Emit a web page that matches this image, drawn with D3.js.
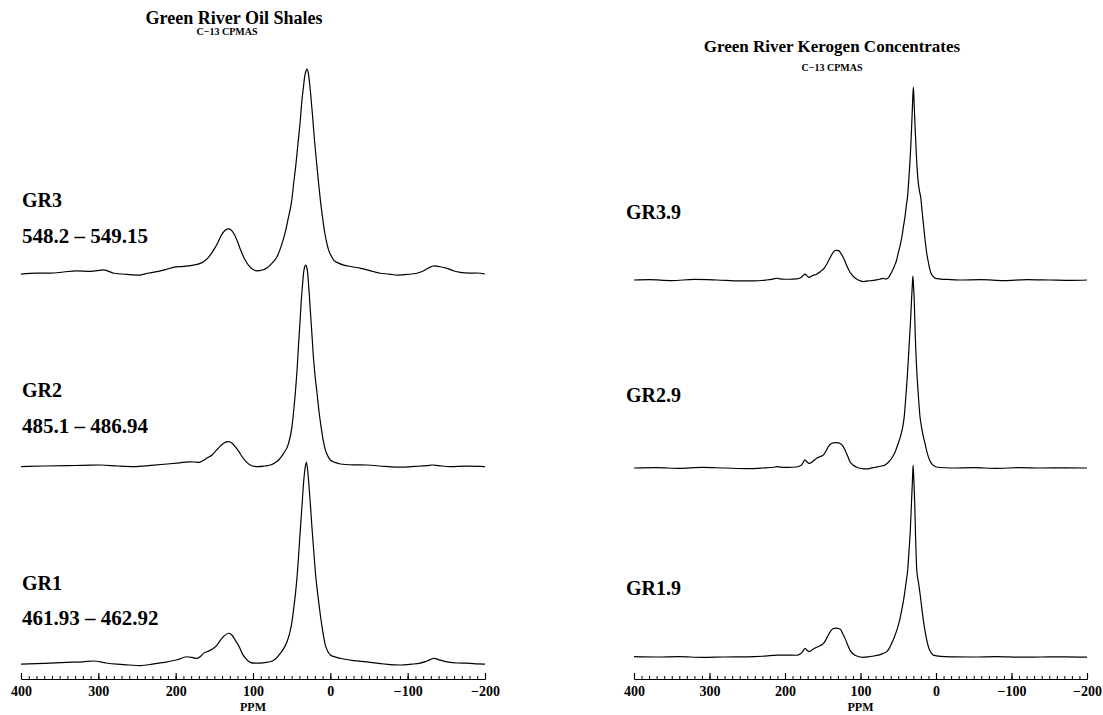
<!DOCTYPE html>
<html><head><meta charset="utf-8">
<script src="https://cdn.jsdelivr.net/npm/d3@7"></script>
<style>
body{margin:0;background:#fff}
text{font-family:"Liberation Serif","Times New Roman",serif;font-weight:bold;fill:#000}
</style>
</head><body>
<svg id="c" width="1103" height="715"></svg>
<script>
// ---------- data ----------
const majorTicks = [400, 300, 200, 100, 0, -100, -200];
const leftTitle = "Green River Oil Shales";
const rightTitle = "Green River Kerogen Concentrates";
const subTitle = "C\u221213 CPMAS";
const axisLabel = "PPM";
const leftNames = ["GR3", "GR2", "GR1"];
const leftRanges = ["548.2 \u2013 549.15", "485.1 \u2013 486.94", "461.93 \u2013 462.92"];
const rightNames = ["GR3.9", "GR2.9", "GR1.9"];

// [ppm, relative intensity] (main peak = 100)
const gr3 = [[400,-1],[380,-0.6],[362,-0.6],[345,0],[328,0.6],[310,0.3],[293,1],[280,-0.6],[262,-1.2],[246,-1.5],[235,-0.5],[224,0.2],[212,1.3],[203,2.3],[190,2.8],[177,3.4],[170,4],[164,5.1],[157,7.5],[151,10.8],[146,14],[142,17.4],[137,20.2],[132,21.2],[128,20.6],[125,19.1],[120,15],[116,10.8],[111,6.5],[106,3.4],[100,1.2],[95,0.6],[88,1],[82,2],[75,4.5],[69,7.5],[62.5,14],[58,20],[54,27.2],[50,35],[47.4,43.7],[44.5,53],[41.8,63.4],[39,74],[36.7,84.7],[34.8,91],[33.2,96.2],[31.5,99],[30.2,100],[28.5,98],[26.8,93],[24.8,85],[22.9,76.5],[20.5,65],[18.1,55.2],[15.5,45],[12.9,35.5],[10.3,27.5],[7.8,20.7],[5,15],[2.2,10.8],[-1,8],[-4.3,5.9],[-10,4.5],[-17.2,3.4],[-28,2.6],[-39,1.8],[-50,0.8],[-64.7,-0.6],[-76,-1],[-86,-1.5],[-100,-1.2],[-112,-0.6],[-120,0.5],[-127,2],[-134,3],[-142,2.6],[-151,1.8],[-160,0.5],[-168,-0.2],[-180,-0.6],[-190,-0.5],[-200,-1]];
const gr2 = [[400,-0.3],[370,0],[340,0.2],[320,0.3],[297,0.5],[275,0],[254,-0.3],[232,0.3],[211,1],[195,1.6],[183,2.1],[176,2],[170,1.8],[165,2.6],[160,3.8],[153,5.5],[147,8],[142,10],[138,11.3],[134,12],[131.5,12.1],[127,11.3],[123,9.6],[118,7],[114,4.6],[109,2.2],[103.5,0.5],[98,-0.2],[92.8,-0.3],[85,0],[77.6,0.5],[72,1.5],[66.9,3],[60.4,6.3],[54,11.3],[49.6,19.6],[47.5,27],[45.3,36.2],[43,48],[41,61],[39,73],[37.5,82.6],[36,90],[34.5,96.4],[33.2,99],[31.9,100],[30.6,99],[29.4,96.4],[27.7,88],[25.9,77.6],[23.7,65],[21.6,52.7],[19.5,44],[17.2,36.2],[14.6,27],[12,19.6],[9.3,13],[6.5,8],[3,4.8],[0,3],[-6,1.8],[-13,1],[-30,0.6],[-47,0.5],[-70,-0.2],[-90.5,-0.6],[-110,-0.2],[-125,0.2],[-132,0.5],[-140,0.2],[-155,-0.3],[-175,-0.1],[-200,-0.3]];
const gr1 = [[400,-0.6],[370,-0.2],[341,0.3],[320,0.6],[306,1],[290,0],[276,-0.6],[260,-1],[246,-1.3],[228,-0.4],[211,0.6],[198,1.6],[186,3.1],[179,2.8],[172.5,2.3],[168,3.2],[164,4.8],[157,6],[151,7.3],[146,9.2],[142,11.4],[137,13.6],[131.5,14.8],[127,13.8],[123,11.4],[118,8.2],[114,4.8],[109,2],[103.5,0.3],[98,-0.1],[92.8,-0.1],[85,0.2],[77.6,0.6],[71,2],[64.7,4.8],[60,7.4],[56,10.6],[52.5,15],[49.6,20.5],[47.4,27],[45.3,33.8],[43,43],[41,53.7],[39.2,64],[37.5,73.6],[36,82],[34.5,90.2],[32.8,96.5],[31,100],[29.5,96.5],[28,90.2],[25.8,79],[23.7,67],[21.5,56],[19.4,45.4],[16.2,34],[12.9,23.9],[9.7,15.5],[6.5,9],[3,5.6],[0,4],[-8,2.8],[-17,2],[-30,1.2],[-47,0.6],[-70,-0.5],[-90.5,-1],[-105,-0.6],[-116,-0.1],[-125,1],[-134,2.3],[-142,1.4],[-151,0.6],[-165,0],[-177,-0.1],[-190,-0.4],[-200,-0.6]];
const gr39 = [[400,0],[380,0.2],[350,-0.3],[320,0.3],[290,0],[260,-0.5],[240,-0.5],[225,0],[215,0.6],[211,0.9],[205,0.5],[195,0.4],[185,0.6],[179,1.2],[176,2.3],[173.5,3],[170,1.8],[168,1.4],[164,2.2],[158,3],[153,4.4],[148,6.2],[145,8],[142,10.2],[139,12.5],[136,14.5],[133,15.3],[129,15.2],[126,13.8],[122,11],[118,7.3],[115,4.8],[112,3],[108,1.3],[103,0],[96,-0.8],[90,-0.5],[83,-0.2],[75,0.4],[70,0.8],[66,0.5],[62,1.8],[58.6,4.2],[55,7.3],[52,10.5],[50,14],[47.5,18],[45,22.8],[43,28],[41,33],[39.5,38],[37.5,44],[36,52],[34.4,62],[33.2,71],[32.2,80],[31,92],[30,100],[29,92],[27.8,80],[26.5,69],[25.5,61],[24.5,55],[23.4,50.3],[21.9,46],[20.3,43],[18.5,36],[16.8,29.5],[14.5,21],[12.3,14],[10,9],[8,5.2],[5.7,2.7],[4,2],[1.3,1],[-6,0.5],[-15,0.3],[-30,0],[-60,0.2],[-90,-0.3],[-120,0.2],[-150,0],[-180,-0.2],[-200,0]];
const gr29 = [[400,0],[370,0.2],[340,-0.2],[310,0.3],[280,0],[250,-0.3],[230,0],[215,0.4],[211,0.7],[200,0.3],[190,0.4],[182,0.8],[178,1.6],[175,3.6],[173.5,4.2],[170.5,3],[168,2.4],[163,3.5],[158,5.1],[153,6],[149,6.8],[145.5,9],[142.6,11.1],[139.5,12.5],[136,13.1],[131.5,13.2],[127,12.8],[124,11.8],[120.5,9.4],[117,6.2],[114,3.3],[110,1.6],[105,0.4],[98,-0.3],[92,-0.5],[86,-0.1],[80.6,0.4],[74,0.9],[67.5,1.6],[63,3],[58.7,5.1],[54,8.5],[50,12.9],[47,16.5],[44,21.5],[42,27],[40.6,33.7],[39,42],[37.5,51],[36,61],[34.4,71.9],[33.3,80],[32.2,89.2],[31.4,95],[30.6,100],[29.8,95],[29,89.2],[28.2,79],[27.4,68.4],[26.5,59],[25.5,51],[23.4,38],[21.2,26.7],[19,21],[16.8,16.3],[14.6,12.9],[12.5,9.2],[10.2,5.9],[7.3,3.2],[4.4,1.6],[1,0.8],[-2,0.4],[-20,0],[-50,0.2],[-80,-0.2],[-110,0.2],[-140,0],[-170,0.1],[-200,0]];
const gr19 = [[400,0.2],[370,0],[340,0.2],[310,-0.2],[280,0],[250,0.1],[230,0.4],[215,0.8],[211,1],[200,1],[185,0.9],[179,1.8],[176,3.2],[173.5,4.5],[170.5,3.4],[168,2.8],[163,4],[158,5.1],[153,6],[149,7.1],[145.5,9.2],[142.6,11.5],[140,13.2],[137,14.6],[132.7,15],[127,14.6],[124,12.5],[120.5,9.7],[117,6.3],[114,3.6],[110,1.7],[105,0.5],[96,-0.2],[89,0.1],[83,0.5],[76,1],[69.8,1.9],[65.3,2.8],[62,4.5],[58.7,7.1],[55,10.5],[51,15],[48,19.5],[45.4,24.5],[43,29.5],[41,34.9],[39.2,40],[37.5,45.3],[35.8,55],[34,66],[32.5,80],[31.2,92],[30.3,100],[29.3,92],[28.2,80],[27,62],[25.5,45.3],[23.3,39],[21.2,33.2],[19,26],[16.8,19.3],[14.5,13.5],[12.3,8.9],[10.5,6],[8.9,4],[6,2],[3.6,1],[-6,0.3],[-20,0.1],[-50,0],[-80,0.2],[-110,-0.1],[-140,0],[-170,0.1],[-200,-0.1]];

// ---------- layout ----------
const svg = d3.select("#c");
const axisY = 679;

function panel(cfg) {
  const g = svg.append("g");
  const x = d3.scaleLinear().domain([400, -200]).range([cfg.x0, cfg.x1]);
  const cx = (cfg.x0 + cfg.x1) / 2;

  g.append("text").attr("x", cfg.titleX).attr("y", cfg.titleY).attr("text-anchor", "middle")
    .style("font-size", cfg.titleSize + "px").text(cfg.title);
  g.append("text").attr("x", cfg.subX).attr("y", cfg.subY).attr("text-anchor", "middle")
    .style("font-size", "10px").text(subTitle);

  cfg.tracks.forEach(t => {
    const y = d3.scaleLinear().domain([0, 100]).range([t.base, t.base - t.h]);
    const line = d3.line().x(d => x(d[0])).y(d => y(d[1])).curve(d3.curveMonotoneX);
    g.append("path").datum(t.data).attr("d", line)
      .attr("fill", "none").attr("stroke", "#000").attr("stroke-width", 1.2)
      .attr("stroke-linejoin", "round");
    g.append("text").attr("x", cfg.labelX).attr("y", t.nameY)
      .style("font-size", "20px").text(t.name);
    if (t.range) g.append("text").attr("x", cfg.labelX).attr("y", t.rangeY)
      .style("font-size", "21px").text(t.range);
  });

  // minor ticks
  const minor = g.append("g").attr("transform", `translate(0,${axisY})`)
    .call(d3.axisBottom(x).ticks(60).tickSize(-3).tickFormat(""));
  minor.select(".domain").remove();
  minor.selectAll("line").attr("stroke-width", 1);
  // major ticks
  const major = g.append("g").attr("transform", `translate(0,${axisY})`)
    .call(d3.axisBottom(x).tickValues(majorTicks).tickSize(-6).tickPadding(7));
  major.select(".domain").attr("stroke-width", 1);
  major.selectAll("line").attr("stroke-width", 1.2);
  major.selectAll("text").attr("font-family", null).attr("font-size", null)
    .style("font-size", "14px");
  g.append("text").attr("x", cx).attr("y", 711).attr("text-anchor", "middle")
    .style("font-size", "12px").text(axisLabel);
}

panel({
  x0: 21, x1: 485, title: leftTitle, titleX: 234, titleY: 24, titleSize: 18,
  subX: 227, subY: 35, labelX: 22,
  tracks: [
    {data: gr3, base: 272, h: 203, name: leftNames[0], nameY: 207, range: leftRanges[0], rangeY: 243},
    {data: gr2, base: 466, h: 201, name: leftNames[1], nameY: 397, range: leftRanges[1], rangeY: 433},
    {data: gr1, base: 663, h: 201, name: leftNames[2], nameY: 590, range: leftRanges[2], rangeY: 625}
  ]
});
panel({
  x0: 634, x1: 1087, title: rightTitle, titleX: 832, titleY: 52, titleSize: 17,
  subX: 832, subY: 71, labelX: 626,
  tracks: [
    {data: gr39, base: 280, h: 193, name: rightNames[0], nameY: 219},
    {data: gr29, base: 468, h: 192, name: rightNames[1], nameY: 402},
    {data: gr19, base: 657, h: 192, name: rightNames[2], nameY: 595}
  ]
});
</script>
</body></html>
